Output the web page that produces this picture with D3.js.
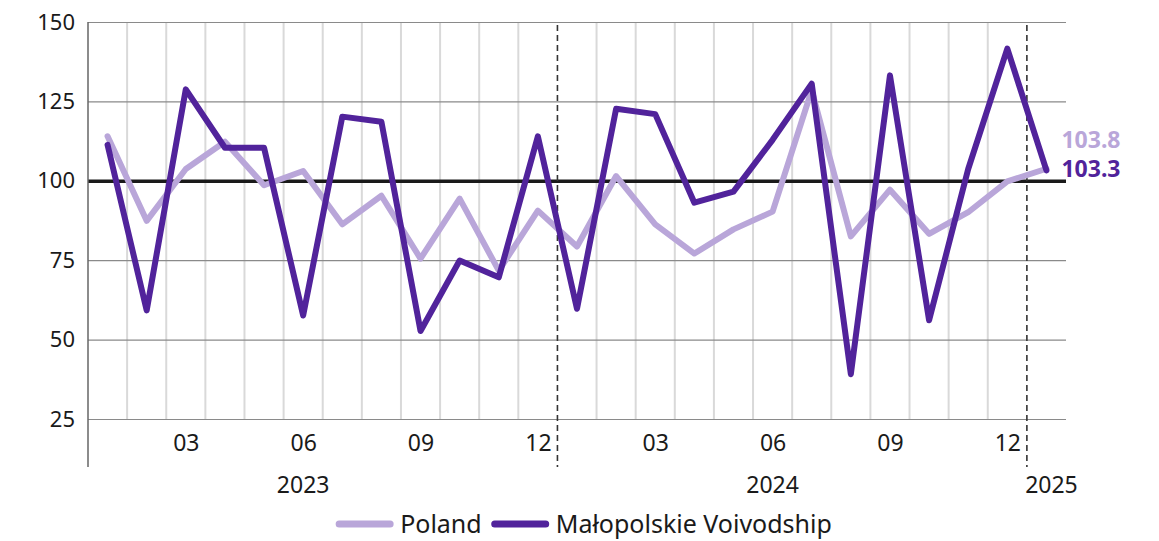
<!DOCTYPE html>
<html>
<head>
<meta charset="utf-8">
<script src="https://cdn.jsdelivr.net/npm/d3@7"></script>
<style>
  html, body { margin: 0; padding: 0; background: #fff; }
  svg { display: block; font-family: "Noto Sans", sans-serif; }
</style>
</head>
<body>
<svg id="chart" width="1159" height="541"></svg>
<script>
const categories = [
  "2023-01","2023-02","2023-03","2023-04","2023-05","2023-06",
  "2023-07","2023-08","2023-09","2023-10","2023-11","2023-12",
  "2024-01","2024-02","2024-03","2024-04","2024-05","2024-06",
  "2024-07","2024-08","2024-09","2024-10","2024-11","2024-12",
  "2025-01"
];
const poland = [
  114.0, 87.4, 103.7, 112.3, 98.6, 103.1,
  86.3, 95.3, 75.5, 94.4, 71.7, 90.6,
  79.3, 101.5, 86.3, 77.1, 84.7, 90.3,
  128.5, 82.5, 97.2, 83.3, 90.1, 99.8,
  103.8
];
const malopolska = [
  111.3, 59.2, 128.8, 110.4, 110.4, 57.6,
  120.2, 118.6, 52.7, 74.9, 69.6, 114.0,
  59.7, 122.7, 121.0, 93.1, 96.6, 112.9,
  130.6, 39.1, 133.2, 56.1, 103.7, 141.6,
  103.3
];
const seriesNames = ["Poland", "Małopolskie Voivodship"];
const seriesColors = ["#b9a6d9", "#51239b"];
const yTicks = [25, 50, 75, 100, 125, 150];
const xTickMonths = ["03", "06", "09", "12"];
const years = ["2023", "2024", "2025"];
const yearAnchors = ["2023-06", "2024-06", "2025-01"];

(function () {
const svg = d3.select("#chart");
const mLeft = 88, mRight = 1066, mTop = 22, mBottom = 419, axisEnd = 467;

const x = d3.scalePoint(categories, [mLeft, mRight]).padding(0.5);
const y = d3.scaleLinear([25, 150], [mBottom, mTop]);
const step = x.step();

// vertical month gridlines and year separators
const boundaries = categories.slice(0, -1).map((c, i) => ({
  pos: x(c) + step / 2,
  yearChange: c.slice(0, 4) !== categories[i + 1].slice(0, 4)
}));
svg.append("g").selectAll("line")
  .data(boundaries.filter(d => !d.yearChange))
  .join("line")
  .attr("x1", d => d.pos).attr("x2", d => d.pos)
  .attr("y1", mTop).attr("y2", mBottom)
  .attr("stroke", "#d9d9d9").attr("stroke-width", 2);

// y axis with horizontal gridlines
const yAxis = svg.append("g")
  .attr("transform", `translate(${mLeft},0)`)
  .call(d3.axisLeft(y).tickValues(yTicks).tickSize(-(mRight - mLeft)).tickPadding(13));
yAxis.select(".domain").remove();
yAxis.selectAll(".tick line").attr("stroke", "#8a8a8a").attr("stroke-width", 1.2);
yAxis.selectAll(".tick text").attr("font-size", 22).attr("fill", "#1a1a1a")
  .attr("font-family", "Noto Sans");
yAxis.selectAll(".tick").filter(d => d === 100).select("line")
  .attr("stroke", "#1a1a1a").attr("stroke-width", 3.5);

// dashed year separators
svg.append("g").selectAll("line")
  .data(boundaries.filter(d => d.yearChange))
  .join("line")
  .attr("x1", d => d.pos).attr("x2", d => d.pos)
  .attr("y1", mTop + 3).attr("y2", axisEnd)
  .attr("stroke", "#333").attr("stroke-width", 1.6)
  .attr("stroke-dasharray", "6,4");

// left axis line
svg.append("line")
  .attr("x1", mLeft).attr("x2", mLeft).attr("y1", mTop).attr("y2", axisEnd)
  .attr("stroke", "#666").attr("stroke-width", 1.5);

// x axis month labels
const xAxis = svg.append("g")
  .attr("transform", `translate(0,${mBottom})`)
  .call(d3.axisBottom(x)
    .tickValues(categories.filter(c => xTickMonths.includes(c.slice(5))))
    .tickFormat(c => c.slice(5))
    .tickSize(0).tickPadding(16));
xAxis.select(".domain").remove();
xAxis.selectAll(".tick text").attr("font-size", 23).attr("fill", "#1a1a1a")
  .attr("font-family", "Noto Sans");

// year labels
svg.append("g").selectAll("text")
  .data(years)
  .join("text")
  .attr("x", (d, i) => x(yearAnchors[i]) + (i === years.length - 1 ? 5 : 0))
  .attr("y", 493)
  .attr("text-anchor", "middle")
  .attr("font-size", 23).attr("fill", "#1a1a1a")
  .text(d => d);

// lines
const line = d3.line().x((d, i) => x(categories[i])).y(d => y(d));
[poland, malopolska].forEach((s, k) => {
  svg.append("path")
    .datum(s)
    .attr("d", line)
    .attr("fill", "none")
    .attr("stroke", seriesColors[k])
    .attr("stroke-width", 6)
    .attr("stroke-linejoin", "round")
    .attr("stroke-linecap", "round");
});

// end labels
const lastCat = categories[categories.length - 1];
const malLast = malopolska[malopolska.length - 1];
const polLast = poland[poland.length - 1];
const malLabelY = y(malLast) + 7;
svg.append("text")
  .attr("x", x(lastCat) + 15).attr("y", malLabelY - 29)
  .attr("font-size", 23).attr("font-weight", "bold")
  .attr("fill", seriesColors[0])
  .text(polLast.toFixed(1));
svg.append("text")
  .attr("x", x(lastCat) + 15).attr("y", malLabelY)
  .attr("font-size", 23).attr("font-weight", "bold")
  .attr("fill", seriesColors[1])
  .text(malLast.toFixed(1));

// legend
const legend = svg.append("g");
const legY = 524, swatchW = 57, gapAfterSwatch = 7, gapBetween = 10;
let cursor = 0;
seriesNames.forEach((name, i) => {
  const g = legend.append("g");
  g.append("line")
    .attr("x1", cursor + 3).attr("x2", cursor + swatchW - 3)
    .attr("y1", legY).attr("y2", legY)
    .attr("stroke", seriesColors[i]).attr("stroke-width", 7)
    .attr("stroke-linecap", "round");
  const t = g.append("text")
    .attr("x", cursor + swatchW + gapAfterSwatch)
    .attr("y", legY + 9)
    .attr("font-size", 25).attr("fill", "#1a1a1a")
    .text(name);
  cursor += swatchW + gapAfterSwatch + t.node().getComputedTextLength() + gapBetween;
});
const totalW = cursor - gapBetween;
legend.attr("transform", `translate(${584 - totalW / 2},0)`);
})();
</script>
</body>
</html>
